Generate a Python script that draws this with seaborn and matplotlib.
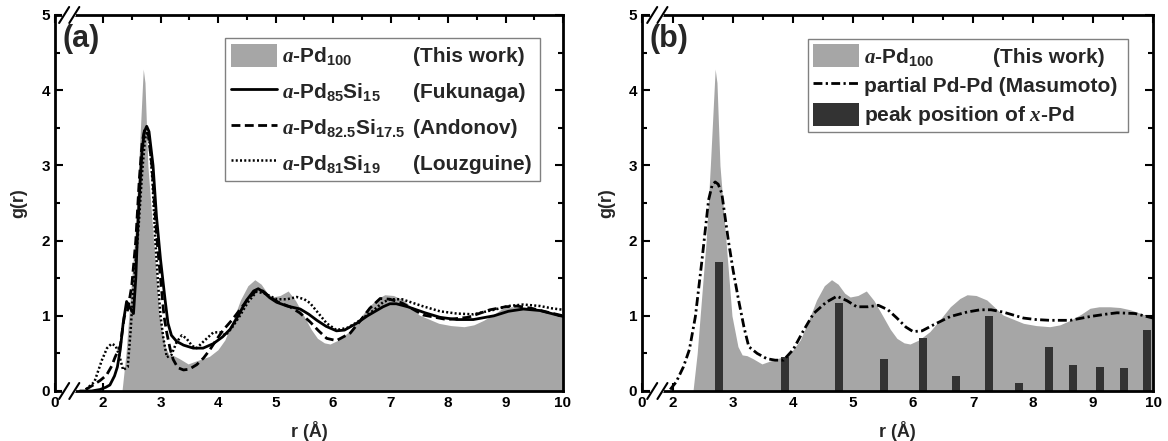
import numpy as np
import matplotlib
matplotlib.use('Agg')
import matplotlib.pyplot as plt
import seaborn as sns
from matplotlib.patches import Patch
from matplotlib.lines import Line2D
from matplotlib.ticker import FixedLocator

# --- a-Pd100 (this work), shaded area, same in both panels ---
pd100_r = [2.33, 2.40, 2.45, 2.55, 2.62, 2.67, 2.70, 2.73, 2.78, 2.88, 2.98, 3.08, 3.15,
           3.23, 3.33, 3.48, 3.62, 3.85, 4.00, 4.12, 4.25, 4.39, 4.52, 4.64, 4.75, 4.86,
           4.95, 5.08, 5.22, 5.35, 5.50, 5.62, 5.73, 5.85, 5.95, 6.10, 6.28, 6.45, 6.62,
           6.78, 6.90, 7.05, 7.23, 7.50, 7.84, 8.05, 8.28, 8.45, 8.62, 8.80, 8.95, 9.10,
           9.28, 9.45, 9.62, 9.80, 10.0]
pd100_g = [0.00, 0.50, 1.00, 2.00, 3.00, 3.80, 4.28, 4.10, 3.00, 2.00, 1.00, 0.59, 0.48,
           0.47, 0.43, 0.36, 0.40, 0.46, 0.55, 0.68, 0.92, 1.21, 1.40, 1.48, 1.42, 1.30,
           1.25, 1.27, 1.33, 1.20, 0.99, 0.82, 0.70, 0.64, 0.625, 0.68, 0.79, 0.95, 1.12,
           1.23, 1.28, 1.27, 1.21, 1.01, 0.90, 0.87, 0.855, 0.88, 0.94, 1.02, 1.10, 1.12,
           1.12, 1.11, 1.08, 1.03, 0.97]

# --- a-Pd85Si15 (Fukunaga) ---
fuku_r = [1.60, 1.80, 1.95, 2.05, 2.12, 2.20, 2.25, 2.30, 2.35, 2.41, 2.46, 2.53, 2.57,
          2.60, 2.64, 2.68, 2.72, 2.76, 2.80, 2.87, 2.93, 3.00, 3.08, 3.13, 3.19, 3.28,
          3.40, 3.57, 3.74, 3.92, 4.08, 4.21, 4.35, 4.50, 4.62, 4.70, 4.80, 4.90, 5.02,
          5.20, 5.43, 5.58, 5.72, 5.88, 6.06, 6.20, 6.41, 6.60, 6.87, 6.99, 7.10, 7.30,
          7.60, 7.86, 8.15, 8.44, 8.80, 9.05, 9.31, 9.60, 9.80, 10.0]
fuku_g = [0.00, 0.00, 0.02, 0.05, 0.08, 0.20, 0.32, 0.55, 0.90, 1.19, 1.12, 1.03, 1.50,
          2.10, 2.70, 3.20, 3.45, 3.52, 3.45, 3.00, 2.32, 1.75, 1.21, 0.90, 0.74, 0.66,
          0.61, 0.57, 0.57, 0.63, 0.72, 0.82, 1.00, 1.21, 1.33, 1.36, 1.31, 1.24, 1.18,
          1.13, 1.09, 1.02, 0.94, 0.86, 0.80, 0.81, 0.90, 1.00, 1.12, 1.16, 1.16, 1.12,
          1.04, 0.98, 0.95, 0.95, 1.00, 1.06, 1.09, 1.07, 1.03, 0.99]

# --- a-Pd82.5Si17.5 (Andonov) ---
ando_r = [1.70, 1.83, 1.95, 2.06, 2.15, 2.21, 2.30, 2.37, 2.43, 2.50, 2.57, 2.63, 2.68,
          2.72, 2.75, 2.79, 2.85, 2.94, 3.00, 3.06, 3.11, 3.17, 3.22, 3.30, 3.40, 3.50,
          3.63, 3.75, 3.86, 3.97, 4.09, 4.25, 4.38, 4.52, 4.67, 4.78, 4.90, 5.05, 5.25,
          5.42, 5.60, 5.75, 5.89, 6.06, 6.30, 6.47, 6.64, 6.82, 6.99, 7.20, 7.57, 7.98,
          8.35, 8.73, 9.00, 9.20, 9.45, 9.72, 10.0]
ando_g = [0.02, 0.08, 0.14, 0.21, 0.33, 0.45, 0.60, 0.99, 1.08, 1.40, 2.00, 2.80, 3.30,
          3.46, 3.48, 3.40, 3.00, 2.00, 1.50, 1.00, 0.77, 0.55, 0.42, 0.31, 0.28, 0.29,
          0.35, 0.44, 0.55, 0.68, 0.81, 0.95, 1.08, 1.22, 1.34, 1.33, 1.25, 1.18, 1.12,
          1.04, 0.92, 0.80, 0.70, 0.67, 0.77, 0.93, 1.10, 1.23, 1.22, 1.17, 1.01, 0.95,
          0.98, 1.08, 1.12, 1.13, 1.10, 1.05, 1.00]

# --- a-Pd81Si19 (Louzguine) ---
louz_r = [1.70, 1.85, 1.98, 2.07, 2.15, 2.22, 2.28, 2.35, 2.43, 2.48, 2.52, 2.56, 2.62,
          2.68, 2.73, 2.77, 2.81, 2.86, 2.91, 2.96, 3.00, 3.05, 3.11, 3.19, 3.28, 3.37,
          3.45, 3.55, 3.63, 3.75, 3.92, 4.05, 4.13, 4.25, 4.38, 4.52, 4.67, 4.80, 5.02,
          5.20, 5.37, 5.50, 5.60, 5.75, 5.89, 6.06, 6.25, 6.41, 6.65, 6.87, 6.99, 7.20,
          7.55, 7.86, 8.15, 8.44, 8.80, 9.05, 9.31, 9.60, 9.80, 10.0]
louz_g = [0.02, 0.12, 0.41, 0.57, 0.63, 0.60, 0.48, 0.28, 0.32, 0.80, 1.30, 1.65, 2.20,
          2.90, 3.35, 3.45, 3.30, 2.80, 2.00, 1.40, 1.00, 0.70, 0.45, 0.48, 0.65, 0.74,
          0.70, 0.60, 0.57, 0.66, 0.78, 0.78, 0.74, 0.85, 1.00, 1.18, 1.32, 1.30, 1.22,
          1.22, 1.25, 1.22, 1.17, 1.03, 0.90, 0.81, 0.84, 0.91, 1.04, 1.18, 1.22, 1.22,
          1.13, 1.06, 1.03, 1.02, 1.08, 1.13, 1.15, 1.13, 1.10, 1.08]

# --- partial Pd-Pd (Masumoto) ---
pdpd_r = [1.95, 2.05, 2.17, 2.27, 2.37, 2.48, 2.59, 2.65, 2.70, 2.75, 2.81, 2.92, 3.00,
          3.09, 3.18, 3.26, 3.40, 3.56, 3.70, 3.84, 4.00, 4.17, 4.34, 4.55, 4.73, 4.90,
          5.06, 5.25, 5.42, 5.58, 5.73, 5.88, 6.00, 6.15, 6.34, 6.62, 6.90, 7.12, 7.30,
          7.50, 7.84, 8.05, 8.28, 8.62, 8.95, 9.20, 9.40, 9.70, 10.0]
pdpd_g = [0.02, 0.12, 0.32, 0.55, 0.99, 1.74, 2.54, 2.74, 2.78, 2.75, 2.63, 2.00, 1.60,
          1.21, 0.85, 0.59, 0.50, 0.43, 0.41, 0.41, 0.55, 0.80, 1.03, 1.18, 1.26, 1.20,
          1.12, 1.12, 1.14, 1.08, 0.97, 0.85, 0.79, 0.80, 0.88, 0.99, 1.05, 1.08, 1.08,
          1.05, 0.97, 0.95, 0.94, 0.94, 0.99, 1.02, 1.04, 1.03, 0.97]

# --- peak positions of crystalline x-Pd ---
peak_r = [2.77, 3.87, 4.76, 5.51, 6.16, 6.71, 7.26, 7.76, 8.26, 8.66, 9.11, 9.51, 9.90]
peak_h = [1.71, 0.45, 1.17, 0.43, 0.70, 0.20, 1.00, 0.11, 0.58, 0.35, 0.32, 0.30, 0.81]

x_ticks = [2, 3, 4, 5, 6, 7, 8, 9, 10]

FILL = '#a6a6a6'
BAR = '#333333'

sns.set_theme(style='ticks')
plt.rcParams['font.family'] = ['Liberation Sans', 'DejaVu Sans']
plt.rcParams['font.weight'] = 'bold'
plt.rcParams['axes.labelweight'] = 'bold'
plt.rcParams['mathtext.fontset'] = 'custom'
plt.rcParams['mathtext.rm'] = 'Liberation Sans:bold'
plt.rcParams['mathtext.bf'] = 'Liberation Sans:bold'
plt.rcParams['mathtext.it'] = 'Liberation Serif:italic'

fig = plt.figure(figsize=(11.68, 4.41), dpi=100)
ax_a = fig.add_axes([55 / 1168, 50 / 441, 508 / 1168, 376 / 441])
ax_b = fig.add_axes([642 / 1168, 50 / 441, 511 / 1168, 376 / 441])


def style_axis(ax, xmin, tag, breaks):
    ax.set_xlim(xmin, 10)
    ax.set_ylim(0, 5)
    ax.xaxis.set_major_locator(FixedLocator([xmin] + x_ticks))
    ax.set_xticklabels(['0'] + [str(t) for t in x_ticks])
    ax.xaxis.set_minor_locator(FixedLocator(np.arange(2.5, 10, 1.0)))
    ax.yaxis.set_major_locator(FixedLocator([0, 1, 2, 3, 4, 5]))
    ax.yaxis.set_minor_locator(FixedLocator(np.arange(0.5, 5, 1.0)))
    ax.tick_params(which='both', direction='in', top=True, right=True,
                   width=1.5, labelsize=11, colors='black')
    ax.tick_params(which='major', length=6)
    ax.tick_params(which='minor', length=3.5)
    for lab in ax.get_xticklabels() + ax.get_yticklabels():
        lab.set_fontweight('bold')
    for sp in ax.spines.values():
        sp.set_linewidth(2)
        sp.set_color('black')
        sp.set_visible(True)
    ax.set_xlabel('r (Å)', fontsize=13, fontweight='bold', labelpad=8)
    ax.set_ylabel('g(r)', fontsize=13, fontweight='bold', labelpad=10)
    ax.text(0.015, 0.975, tag, transform=ax.transAxes, fontsize=22,
            fontweight='bold', va='top', ha='left')
    # axis break marks on bottom and top spines
    w = ax.get_position().width * 1168
    h = ax.get_position().height * 441
    dx, dy = 5 / w, 8 / h
    for yb in (0, 1):
        ax.plot([breaks[0], breaks[1]], [yb, yb], color='white', lw=3,
                transform=ax.transAxes, clip_on=False, zorder=5)
        for xc in breaks:
            ax.plot([xc - dx, xc + dx], [yb - dy, yb + dy], color='black', lw=1.5,
                    transform=ax.transAxes, clip_on=False, zorder=6)


def add_notes(ax, leg, notes, x_axes, size):
    fig.canvas.draw()
    renderer = fig.canvas.get_renderer()
    inv = ax.transAxes.inverted()
    for txt, note in zip(leg.get_texts(), notes):
        if not note:
            continue
        ext = txt.get_window_extent(renderer)
        _, _, d = renderer.get_text_width_height_descent(
            txt.get_text(), txt.get_fontproperties(), ismath=True)
        _, y = inv.transform((0, ext.y0 + d))
        ax.text(x_axes, y, note, transform=ax.transAxes, fontsize=size,
                fontweight='bold', va='baseline', ha='left', zorder=10)


LEG_FS = 15
leg_kw = dict(loc='upper left', mode='expand', prop={'size': LEG_FS, 'weight': 'bold'},
              frameon=True, fancybox=False, edgecolor='#808080', framealpha=1,
              handlelength=2.2, handleheight=1.3, handletextpad=0.25, borderaxespad=0)

# ---------------- panel (a) ----------------
ax_a.fill_between(pd100_r, pd100_g, 0, color=FILL, lw=0, zorder=1)
sns.lineplot(x=fuku_r, y=fuku_g, ax=ax_a, color='black', lw=2, sort=False,
             estimator=None, zorder=3)
sns.lineplot(x=ando_r, y=ando_g, ax=ax_a, color='black', lw=2, sort=False,
             estimator=None, linestyle=(0, (3.2, 1.6)), zorder=3)
sns.lineplot(x=louz_r, y=louz_g, ax=ax_a, color='black', lw=1.8, sort=False,
             estimator=None, linestyle=(0, (0.8, 0.9)), zorder=3)
style_axis(ax_a, 1.165, '(a)', (0.018, 0.038))

handles_a = [Patch(facecolor=FILL, edgecolor='none'),
             Line2D([], [], color='black', lw=2),
             Line2D([], [], color='black', lw=2, linestyle=(0, (3.2, 1.6))),
             Line2D([], [], color='black', lw=1.8, linestyle=(0, (0.8, 0.9)))]
labels_a = [r'$a$-Pd$_{100}$', r'$a$-Pd$_{85}$Si$_{15}$',
            r'$a$-Pd$_{82.5}$Si$_{17.5}$', r'$a$-Pd$_{81}$Si$_{19}$']
leg_a = ax_a.legend(handles_a, labels_a, bbox_to_anchor=(0.335, 0.5, 0.62, 0.44),
                    labelspacing=0.6, borderpad=0.3, **leg_kw)
leg_a.get_frame().set_linewidth(1)
leg_a.set_zorder(8)

# ---------------- panel (b) ----------------
ax_b.fill_between(pd100_r, pd100_g, 0, color=FILL, lw=0, zorder=1)
ax_b.bar(peak_r, peak_h, width=0.13, color=BAR, lw=0, zorder=2)
sns.lineplot(x=pdpd_r, y=pdpd_g, ax=ax_b, color='black', lw=2, sort=False,
             estimator=None, linestyle=(0, (3.2, 1.2, 0.8, 1.2)), zorder=3)
style_axis(ax_b, 1.48, '(b)', (0.02, 0.04))

handles_b = [Patch(facecolor=FILL, edgecolor='none'),
             Line2D([], [], color='black', lw=2, linestyle=(0, (3.2, 1.2, 0.8, 1.2))),
             Patch(facecolor=BAR, edgecolor='none')]
labels_b = [r'$a$-Pd$_{100}$', 'partial Pd-Pd (Masumoto)', r'peak position of $x$-Pd']
leg_b = ax_b.legend(handles_b, labels_b, bbox_to_anchor=(0.325, 0.5, 0.626, 0.436),
                    labelspacing=0.3, borderpad=0.25, **leg_kw)
leg_b.get_frame().set_linewidth(1)
leg_b.set_zorder(8)

add_notes(ax_a, leg_a, ['(This work)', '(Fukunaga)', '(Andonov)', '(Louzguine)'], 0.705, LEG_FS)
add_notes(ax_b, leg_b, ['(This work)', '', ''], 0.687, LEG_FS)

fig.savefig('out.png', dpi=100)
